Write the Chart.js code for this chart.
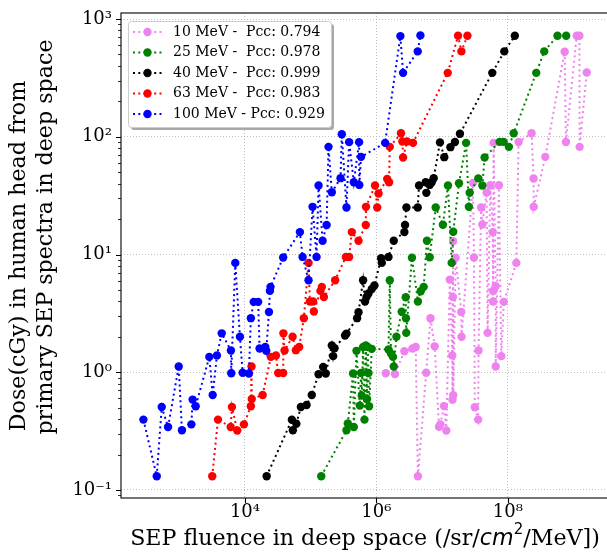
<!DOCTYPE html>
<html>
<head>
<meta charset="utf-8">
<script src="https://cdn.jsdelivr.net/npm/chart.js@4"></script>
<style>
  html, body { margin: 0; padding: 0; background: #fff; overflow: hidden; }
  #wrap { width: 607px; height: 553px; overflow: hidden; }
</style>
</head>
<body>
<div id="wrap"><canvas id="chart" width="620" height="553"></canvas></div>
<script>
"use strict";

// 10 MeV
const fluence10 = [1.39e6, 1.92e6, 2.67e6, 3.54e6, 3.97e6, 4.29e6, 5.73e6, 6.67e6, 7.72e6, 8.98e6, 9.43e6, 1.07e7, 1.16e7, 1.31e7, 1.43e7, 1.44e7, 1.46e7, 1.47e7, 1.48e7, 1.61e7, 1.96e7, 1.98e7, 2.95e7, 3.06e7, 3.15e7, 3.54e7, 3.59e7, 3.93e7, 4.10e7, 4.76e7, 4.93e7, 5.42e7, 5.92e7, 5.94e7, 5.96e7, 6.08e7, 6.53e7, 6.55e7, 7.33e7, 7.96e7, 8.69e7, 1.35e8, 1.46e8, 2.30e8, 2.47e8, 2.48e8, 3.72e8, 7.35e8, 7.67e8, 1.12e9, 1.23e9, 1.24e9, 1.59e9];
const dose10 = [0.98, 0.967, 1.51, 1.59, 1.64, 0.131, 0.99, 2.88, 1.66, 0.344, 0.361, 0.516, 0.32, 6.12, 1.39, 0.585, 4.36, 13.0, 0.638, 9.39, 3.25, 2.0, 40.6, 9.43, 0.504, 0.396, 1.53, 25.1, 18.0, 33.6, 2.16, 38.8, 15.5, 4.91, 3.98, 88.7, 5.38, 1.12, 38.8, 1.37, 3.96, 8.49, 90.3, 107, 44.2, 25.4, 67.5, 528, 90.3, 722, 722, 82.1, 351];

// 25 MeV
const fluence25 = [1.45e5, 3.51e5, 3.68e5, 4.42e5, 4.54e5, 4.99e5, 5.60e5, 5.85e5, 6.00e5, 6.28e5, 6.59e5, 6.90e5, 7.22e5, 7.40e5, 7.59e5, 7.75e5, 8.51e5, 1.53e6, 1.60e6, 1.67e6, 1.79e6, 1.84e6, 2.02e6, 2.43e6, 2.80e6, 2.82e6, 2.85e6, 3.48e6, 4.29e6, 4.73e6, 5.25e6, 5.89e6, 6.48e6, 8.00e6, 1.03e7, 1.23e7, 1.40e7, 1.48e7, 1.81e7, 2.32e7, 2.56e7, 2.63e7, 3.56e7, 4.10e7, 4.44e7, 7.50e7, 8.63e7, 1.04e8, 1.23e8, 2.71e8, 3.59e8, 5.71e8, 7.74e8];
const dose25 = [0.131, 0.322, 0.367, 0.975, 0.343, 1.52, 0.521, 0.986, 0.634, 1.64, 0.396, 1.69, 0.593, 1.64, 0.986, 0.514, 1.58, 1.56, 6.05, 1.44, 1.35, 1.12, 2.0, 3.27, 4.34, 2.88, 2.16, 9.39, 3.99, 4.88, 5.31, 13.1, 9.49, 25.1, 17.9, 38.6, 8.49, 15.6, 40.3, 88.7, 25.4, 33.5, 44.3, 38.6, 66.7, 90.5, 90.5, 82.1, 107, 349, 531, 720, 720];

// 40 MeV
const fluence40 = [2.14e4, 5.18e4, 5.36e4, 6.06e4, 7.10e4, 8.67e4, 1.04e5, 1.32e5, 1.55e5, 1.70e5, 2.10e5, 2.20e5, 2.31e5, 3.34e5, 3.51e5, 5.09e5, 5.35e5, 6.28e5, 6.73e5, 7.08e5, 7.59e5, 8.51e5, 9.35e5, 1.18e6, 1.21e6, 1.53e6, 1.84e6, 2.67e6, 2.73e6, 2.87e6, 4.26e6, 4.46e6, 5.64e6, 5.77e6, 6.48e6, 6.95e6, 7.45e6, 9.29e6, 1.08e7, 1.34e7, 1.57e7, 1.87e7, 5.81e7, 8.85e7, 1.28e8];
const dose40 = [0.131, 0.395, 0.322, 0.365, 0.507, 0.527, 0.641, 0.962, 1.11, 0.975, 1.69, 1.37, 1.6, 2.05, 2.13, 2.88, 3.23, 6.05, 3.99, 4.36, 4.66, 5.1, 5.45, 9.3, 8.49, 9.54, 13.1, 15.5, 17.8, 25.1, 25.1, 38.6, 41.1, 33.4, 39.0, 41.1, 44.5, 89.6, 67.1, 81.6, 90.3, 106, 349, 531, 720];

// 63 MeV
const fluence63 = [3.18e3, 3.89e3, 6.07e3, 6.34e3, 7.64e3, 9.66e3, 1.23e4, 1.26e4, 1.27e4, 1.86e4, 2.48e4, 2.96e4, 3.21e4, 3.82e4, 3.85e4, 4.01e4, 5.31e4, 5.96e4, 6.69e4, 7.88e4, 9.29e4, 9.73e4, 1.09e5, 1.12e5, 1.41e5, 1.48e5, 1.59e5, 2.36e5, 3.43e5, 3.85e5, 4.23e5, 5.35e5, 6.90e5, 6.95e5, 9.55e5, 1.03e6, 1.08e6, 1.46e6, 1.56e6, 1.60e6, 2.37e6, 2.49e6, 2.55e6, 2.93e6, 3.61e6, 1.22e7, 1.75e7, 1.97e7, 2.43e7];
const dose63 = [0.131, 0.396, 0.343, 0.507, 0.32, 0.361, 0.514, 1.12, 0.593, 0.641, 1.35, 1.39, 0.986, 0.986, 2.14, 1.53, 2.0, 1.54, 1.64, 2.88, 8.49, 3.99, 3.99, 3.28, 4.91, 5.31, 4.36, 6.05, 9.54, 9.54, 15.5, 13.1, 17.8, 25.4, 38.6, 25.1, 33.0, 43.9, 41.1, 82.1, 107, 91.2, 66.7, 91.2, 88.7, 349, 720, 531, 720];

// 100 MeV
const fluence100 = [2.85e2, 4.55e2, 5.42e2, 6.76e2, 9.82e2, 1.10e3, 1.53e3, 1.60e3, 1.78e3, 2.87e3, 3.23e3, 3.75e3, 4.43e3, 6.12e3, 6.19e3, 7.13e3, 8.39e3, 9.23e3, 1.15e4, 1.23e4, 1.36e4, 1.59e4, 1.67e4, 2.04e4, 2.11e4, 2.32e4, 2.40e4, 2.45e4, 3.82e4, 6.86e4, 7.54e4, 9.29e4, 1.07e5, 1.23e5, 1.32e5, 1.52e5, 1.75e5, 1.87e5, 2.10e5, 2.85e5, 2.98e5, 3.51e5, 3.85e5, 4.54e5, 5.46e5, 5.50e5, 5.85e5, 1.36e6, 2.32e6, 2.55e6, 4.26e6, 4.68e6];
const dose100 = [0.396, 0.131, 0.507, 0.343, 1.12, 0.322, 0.361, 0.586, 0.514, 1.35, 0.641, 1.39, 2.14, 1.53, 0.98, 8.49, 2.0, 0.99, 0.975, 2.88, 3.96, 3.96, 1.59, 1.64, 1.52, 3.25, 4.91, 5.31, 9.43, 15.5, 9.54, 6.05, 25.4, 9.54, 38.6, 13.1, 17.8, 82.1, 33.8, 44.5, 105, 25.1, 90, 41.1, 90, 39.0, 67.5, 88.7, 716, 349, 531, 726];

const legendLabels = [
  "10 MeV -  Pcc: 0.794",
  "25 MeV -  Pcc: 0.978",
  "40 MeV -  Pcc: 0.999",
  "63 MeV -  Pcc: 0.983",
  "100 MeV - Pcc: 0.929",
];
const seriesColors = ["#ee82ee", "#008000", "#000000", "#ff0000", "#0000ff"];

const xTickValues = [1e4, 1e6, 1e8];
const xTickLabels = ["10⁴", "10⁶", "10⁸"];
const yTickValues = [0.1, 1, 10, 100, 1000];
const yTickLabels = ["10⁻¹", "10⁰", "10¹", "10²", "10³"];

// x title pieces: serif text, italic "cm", superscript "2", serif text
const xTitleParts = ["SEP fluence in deep space (/sr/", "cm", "2", "/MeV])"];
const yTitle = ["Dose(cGy) in human head from", "primary SEP spectra in deep space"];

const SERIF = "'DejaVu Serif', serif";
const series = [
  [fluence10, dose10],
  [fluence25, dose25],
  [fluence40, dose40],
  [fluence63, dose63],
  [fluence100, dose100],
];

// frame + outward tick marks like matplotlib
const framePlugin = {
  id: "frame",
  afterDatasetsDraw(chart) {
    const { ctx, chartArea: a, scales } = chart;
    ctx.save();
    ctx.strokeStyle = "#000";
    ctx.lineWidth = 1.1;
    ctx.strokeRect(a.left, a.top, a.right - a.left, a.bottom - a.top);
    ctx.beginPath();
    xTickValues.forEach((v) => {
      const px = Math.round(scales.x.getPixelForValue(v)) + 0.5;
      ctx.moveTo(px, a.bottom);
      ctx.lineTo(px, a.bottom + 5);
    });
    yTickValues.forEach((v) => {
      const py = Math.round(scales.y.getPixelForValue(v)) + 0.5;
      ctx.moveTo(a.left, py);
      ctx.lineTo(a.left - 5, py);
    });
    ctx.stroke();
    ctx.lineWidth = 0.8;
    ctx.beginPath();
    for (let dec = 0.01; dec < 2000; dec *= 10) {
      for (let m = 2; m <= 9; m++) {
        const v = dec * m;
        if (v < scales.y.min || v > scales.y.max) continue;
        const py = Math.round(scales.y.getPixelForValue(v)) + 0.5;
        ctx.moveTo(a.left, py);
        ctx.lineTo(a.left - 3, py);
      }
    }
    ctx.stroke();
    ctx.restore();
  },
};

// axis titles (mixed fonts on x, unevenly centred lines on y)
const titlePlugin = {
  id: "axisTitles",
  afterDraw(chart) {
    const { ctx, chartArea: a } = chart;
    ctx.save();
    ctx.fillStyle = "#000";
    ctx.font = `22.2px ${SERIF}`;
    ctx.textAlign = "center";
    ctx.textBaseline = "middle";
    const yPos = [[19.5, 256], [46, 237]];
    yTitle.forEach((line, i) => {
      ctx.save();
      ctx.translate(yPos[i][0], yPos[i][1]);
      ctx.rotate(-Math.PI / 2);
      ctx.fillText(line, 0, 0);
      ctx.restore();
    });

    const fonts = [
      `22.2px ${SERIF}`,
      "italic 22.2px 'DejaVu Sans'",
      "15px 'DejaVu Sans'",
      `22.2px ${SERIF}`,
    ];
    const rise = [0, 0, 11, 0];
    ctx.textAlign = "left";
    ctx.textBaseline = "alphabetic";
    const widths = xTitleParts.map((t, i) => {
      ctx.font = fonts[i];
      return ctx.measureText(t).width;
    });
    let x = (a.left + a.right) / 2 - widths.reduce((s, w) => s + w, 0) / 2;
    xTitleParts.forEach((t, i) => {
      ctx.font = fonts[i];
      ctx.fillText(t, x, 545 - rise[i]);
      x += widths[i];
    });
    ctx.restore();
  },
};

const legendPlugin = {
  id: "boxLegend",
  afterDraw(chart) {
    const { ctx, chartArea: a } = chart;
    const x0 = a.left + 7;
    const y0 = a.top + 8;
    const w = 203;
    const h = 106;
    ctx.save();
    ctx.fillStyle = "#a9a9a9";
    ctx.beginPath();
    ctx.roundRect(x0 + 3, y0 + 3, w, h, 3);
    ctx.fill();
    ctx.fillStyle = "#fff";
    ctx.strokeStyle = "#cccccc";
    ctx.lineWidth = 1;
    ctx.beginPath();
    ctx.roundRect(x0 + 0.5, y0 + 0.5, w, h, 3);
    ctx.fill();
    ctx.stroke();
    ctx.font = `14px ${SERIF}`;
    ctx.textBaseline = "middle";
    legendLabels.forEach((label, i) => {
      const y = y0 + 11 + i * 20.5;
      ctx.strokeStyle = seriesColors[i];
      ctx.lineWidth = 2;
      ctx.setLineDash([2, 3.3]);
      ctx.beginPath();
      ctx.moveTo(x0 + 5, y);
      ctx.lineTo(x0 + 34, y);
      ctx.stroke();
      ctx.setLineDash([]);
      ctx.fillStyle = seriesColors[i];
      ctx.beginPath();
      ctx.arc(x0 + 19.5, y, 4.2, 0, Math.PI * 2);
      ctx.fill();
      ctx.fillStyle = "#000";
      ctx.fillText(label, x0 + 45, y);
    });
    ctx.restore();
  },
};

new Chart(document.getElementById("chart"), {
  type: "scatter",
  data: {
    datasets: series.map(([xs, ys], i) => ({
      label: legendLabels[i],
      data: xs.map((x, j) => ({ x, y: ys[j] })),
      showLine: true,
      borderColor: seriesColors[i],
      backgroundColor: seriesColors[i],
      pointBackgroundColor: seriesColors[i],
      borderWidth: 2,
      borderDash: [2, 3.3],
      pointRadius: 4.2,
      pointBorderWidth: 0,
      tension: 0,
      order: 5 - i,
    })),
  },
  options: {
    responsive: false,
    animation: false,
    events: [],
    layout: { padding: { top: 13, right: 11, left: 0, bottom: 0 } },
    plugins: { legend: { display: false }, tooltip: { enabled: false } },
    scales: {
      x: {
        type: "logarithmic",
        min: 130,
        max: 3.47e9,
        bounds: "data",
        afterBuildTicks: (s) => {
          s.ticks = xTickValues.map((v) => ({ value: v }));
        },
        afterFit: (s) => {
          s.height = 55;
          s.paddingLeft = 0;
          s.paddingRight = 0;
        },
        ticks: {
          callback: (v) => xTickLabels[xTickValues.indexOf(v)] ?? "",
          font: { family: SERIF, size: 18 },
          color: "#000",
          padding: 4,
          maxRotation: 0,
          autoSkip: false,
        },
        grid: { color: "#b0b0b0", lineWidth: 0.8, drawTicks: false },
        border: { display: false, dash: [1, 2] },
      },
      y: {
        type: "logarithmic",
        min: 0.0855,
        max: 1125,
        bounds: "data",
        afterBuildTicks: (s) => {
          s.ticks = yTickValues.map((v) => ({ value: v }));
        },
        afterFit: (s) => {
          s.width = 121;
          s.paddingTop = 0;
          s.paddingBottom = 0;
        },
        ticks: {
          callback: (v) => yTickLabels[yTickValues.indexOf(v)] ?? "",
          font: { family: SERIF, size: 18 },
          color: "#000",
          padding: 9,
          autoSkip: false,
        },
        grid: { color: "#b0b0b0", lineWidth: 0.8, drawTicks: false },
        border: { display: false, dash: [1, 2] },
      },
    },
  },
  plugins: [framePlugin, titlePlugin, legendPlugin],
});
</script>
</body>
</html>
